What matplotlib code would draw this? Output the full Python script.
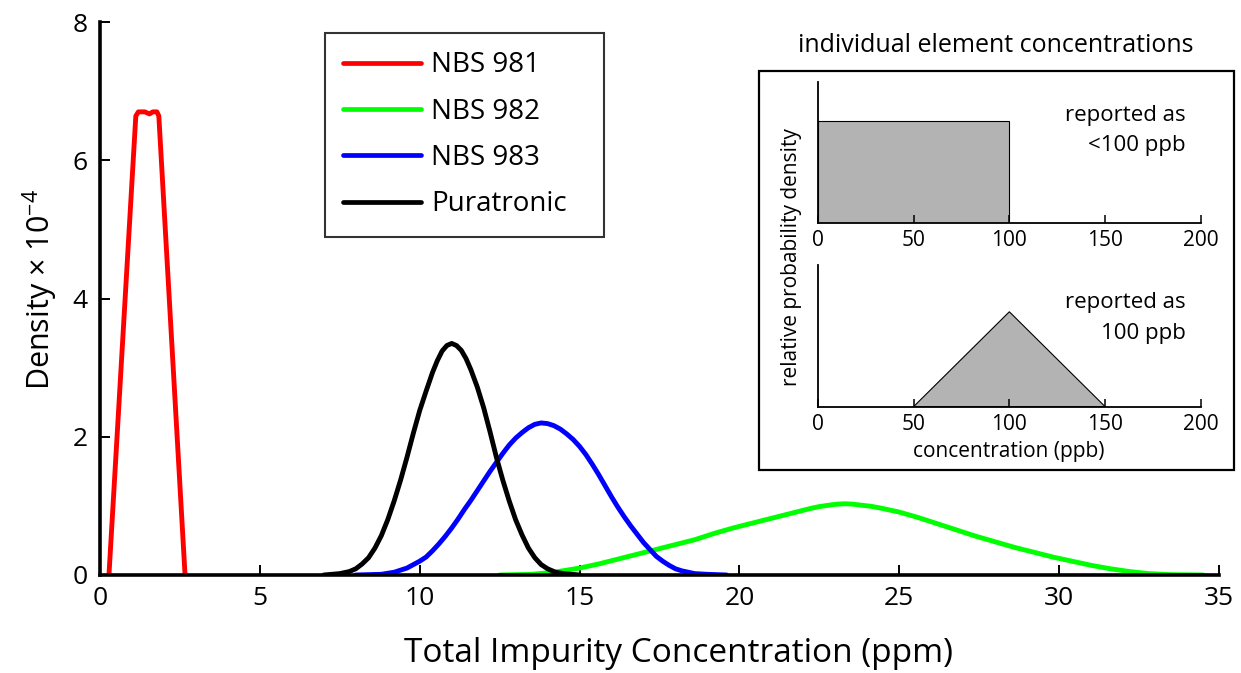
import matplotlib
matplotlib.use("Agg")
import matplotlib.pyplot as plt
from matplotlib.patches import Rectangle

plt.rcParams['font.family'] = ['Open Sans', 'DejaVu Sans']
plt.rcParams['mathtext.fontset'] = 'custom'
plt.rcParams['mathtext.rm'] = 'Open Sans'
plt.rcParams['mathtext.it'] = 'Open Sans'

# ---------------- data ----------------
red_x = [0.28, 1.12, 1.20, 1.40, 1.55, 1.65, 1.78, 1.84, 2.66]
red_y = [0.0, 6.64, 6.70, 6.70, 6.67, 6.70, 6.70, 6.64, 0.0]

green_x = [12.5, 13.5, 14.2, 15.0, 15.6, 16.2, 16.8, 17.4, 18.0, 18.6, 19.2, 19.8,
           20.4, 21.0, 21.6, 22.2, 22.5, 22.8, 23.05, 23.3, 23.55, 23.8, 24.1, 24.4,
           25.0, 25.6, 26.2, 26.8, 27.4, 28.0, 28.6, 29.2, 29.8, 30.4, 31.0, 31.6,
           32.2, 32.8, 33.5, 34.5]
green_y = [0.0, 0.01, 0.04, 0.10, 0.16, 0.23, 0.30, 0.37, 0.44, 0.51, 0.60, 0.68,
           0.75, 0.82, 0.89, 0.96, 0.99, 1.01, 1.025, 1.03, 1.025, 1.01, 0.995, 0.97,
           0.91, 0.83, 0.74, 0.65, 0.56, 0.48, 0.40, 0.33, 0.26, 0.20, 0.14, 0.09,
           0.05, 0.02, 0.005, 0.0]

blue_x = [8.0, 8.8, 9.2, 9.4, 9.6, 9.8, 10.0, 10.2, 10.4, 10.6, 10.8, 11.0, 11.2,
          11.4, 11.6, 11.8, 12.0, 12.2, 12.4, 12.6, 12.8, 13.0, 13.2, 13.4, 13.6,
          13.8, 14.0, 14.2, 14.4, 14.6, 14.8, 15.0, 15.2, 15.4, 15.6, 15.8, 16.0,
          16.2, 16.4, 16.6, 16.8, 17.0, 17.2, 17.4, 17.6, 17.8, 18.0, 18.2, 18.4,
          18.6, 19.0, 19.6]
blue_y = [0.0, 0.01, 0.04, 0.07, 0.10, 0.15, 0.20, 0.26, 0.35, 0.45, 0.56, 0.68, 0.81,
          0.95, 1.08, 1.22, 1.36, 1.50, 1.63, 1.76, 1.88, 1.98, 2.06, 2.13, 2.18,
          2.20, 2.19, 2.16, 2.11, 2.04, 1.96, 1.86, 1.74, 1.60, 1.45, 1.29, 1.13,
          0.98, 0.84, 0.71, 0.59, 0.47, 0.37, 0.27, 0.20, 0.14, 0.09, 0.06, 0.04,
          0.02, 0.01, 0.0]

black_x = [7.0, 7.5, 7.8, 8.0, 8.2, 8.4, 8.6, 8.8, 9.0, 9.2, 9.4, 9.6, 9.8, 10.0,
           10.2, 10.4, 10.55, 10.7, 10.85, 11.0, 11.15, 11.3, 11.45, 11.6, 11.8,
           12.0, 12.2, 12.4, 12.6, 12.8, 13.0, 13.2, 13.4, 13.6, 13.8, 14.0, 14.25,
           14.5, 15.0]
black_y = [0.0, 0.02, 0.05, 0.09, 0.16, 0.25, 0.39, 0.57, 0.80, 1.07, 1.37, 1.70,
           2.05, 2.38, 2.66, 2.93, 3.10, 3.24, 3.32, 3.35, 3.32, 3.25, 3.13, 2.97,
           2.72, 2.42, 2.07, 1.70, 1.37, 1.07, 0.80, 0.58, 0.39, 0.25, 0.15, 0.09,
           0.04, 0.02, 0.0]

series_labels = ['NBS 981', 'NBS 982', 'NBS 983', 'Puratronic']
series_colors = ['#ff0000', '#00ff00', '#0000ff', '#000000']

x_ticks = [0, 5, 10, 15, 20, 25, 30, 35]
y_ticks = [0, 2, 4, 6, 8]

# inset data
inset_ticks = [0, 50, 100, 150, 200]
rect_x = [0, 0, 100, 100]
rect_y = [0, 0.72, 0.72, 0]
tri_x = [50, 100, 150]
tri_y = [0, 0.67, 0]

# ---------------- figure ----------------
W, H = 1241, 673
fig = plt.figure(figsize=(W / 100, H / 100), dpi=100)

def fx(px):
    return px / W

def fy(py):
    return 1 - py / H

ax = fig.add_axes([fx(100), fy(575), fx(1219) - fx(100), fy(22) - fy(575)])
for xs, ys, lab, col in zip([red_x, green_x, blue_x, black_x],
                            [red_y, green_y, blue_y, black_y],
                            series_labels, series_colors):
    ax.plot(xs, ys, color=col, lw=3.5, label=lab, solid_joinstyle='round',
            solid_capstyle='round', zorder=3)

ax.set_xlim(0, 35)
ax.set_ylim(0, 8)
ax.set_xticks(x_ticks)
ax.set_yticks(y_ticks)
for s in ['top', 'right']:
    ax.spines[s].set_visible(False)
for s in ['left', 'bottom']:
    ax.spines[s].set_linewidth(2.6)
    ax.spines[s].set_capstyle('projecting')
    ax.spines[s].set_zorder(4)
ax.tick_params(direction='in', length=7, width=1.4, labelsize=19, color='black')
ax.tick_params(axis='x', pad=8)
ax.tick_params(axis='y', pad=9)

fig.text(fx(679), fy(662), 'Total Impurity Concentration (ppm)', fontsize=24,
         ha='center', va='baseline')
fig.text(fx(40), fy(290), 'Density \u00d7 10$^{-4}$', fontsize=22, rotation=90,
         ha='center', va='center')

leg = ax.legend(loc='upper left',
                bbox_to_anchor=(fx(325), fy(234), fx(604) - fx(325), fy(33) - fy(234)),
                bbox_transform=fig.transFigure, mode='expand', borderaxespad=0,
                fontsize=20, frameon=True, fancybox=False, handlelength=2.8,
                handletextpad=0.36, borderpad=0.66, labelspacing=0.66)
leg.get_frame().set_edgecolor('black')
leg.get_frame().set_linewidth(1.5)
for h in leg.get_lines():
    h.set_linewidth(3.4)

# ---------------- inset ----------------
box = Rectangle((fx(759.3), fy(470)), fx(1234) - fx(759.3), fy(70.7) - fy(470),
                transform=fig.transFigure, facecolor='white', edgecolor='black',
                lw=1.6, zorder=5)
fig.patches.append(box)

fig.text(fx(996), fy(45), 'individual element concentrations', fontsize=18,
         ha='center', va='center')

def make_inset(top_px, bot_px):
    a = fig.add_axes([fx(817.7), fy(bot_px), fx(1201) - fx(817.7), fy(top_px) - fy(bot_px)])
    a.set_zorder(6)
    a.patch.set_alpha(0)
    a.set_xlim(0, 200)
    a.set_ylim(0, 1)
    a.set_xticks(inset_ticks)
    a.set_yticks([])
    for s in ['top', 'right']:
        a.spines[s].set_visible(False)
    for s in ['left', 'bottom']:
        a.spines[s].set_linewidth(1.3)
        a.spines[s].set_capstyle('projecting')
    a.tick_params(axis='x', direction='in', length=6, width=1.1, labelsize=15, pad=5)
    return a

a1 = make_inset(81.7, 223.3)
a1.fill(rect_x, rect_y, facecolor='#b3b3b3', edgecolor='black', lw=0.8)
a2 = make_inset(265, 406.7)
a2.fill(tri_x, tri_y, facecolor='#b3b3b3', edgecolor='black', lw=0.8)

for txt, py in [('reported as', 115), ('<100 ppb', 145), ('reported as', 302.7), ('100 ppb', 333)]:
    fig.text(fx(1186), fy(py), txt, fontsize=16, ha='right', va='center', zorder=7)

fig.text(fx(1009), fy(451), 'concentration (ppb)', fontsize=15, ha='center', va='center', zorder=7)
fig.text(fx(792), fy(257), 'relative probability density', fontsize=15, rotation=90,
         ha='center', va='center', zorder=7)

fig.savefig('out.png', dpi=100)
